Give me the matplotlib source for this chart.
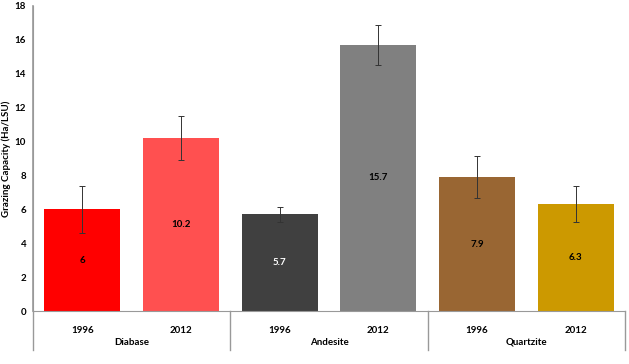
import matplotlib.pyplot as plt
import matplotlib.transforms as mtransforms

years = ['1996', '2012', '1996', '2012', '1996', '2012']
groups = ['Diabase', 'Andesite', 'Quartzite']
values = [6, 10.2, 5.7, 15.7, 7.9, 6.3]
errors = [1.4, 1.3, 0.45, 1.2, 1.25, 1.05]
labels = ['6', '10.2', '5.7', '15.7', '7.9', '6.3']
colors = ['#FF0000', '#FF5050', '#404040', '#808080', '#996633', '#CC9900']
label_colors = ['black', 'black', 'white', 'black', 'black', 'black']

plt.rcParams['font.family'] = ['Lato', 'DejaVu Sans']

fig = plt.figure(figsize=(6.29, 3.64), dpi=100)
ax = fig.add_axes([0.0525, 0.1456, 0.941, 0.838])

x = range(len(values))
ax.bar(x, values, width=0.77, color=colors, yerr=errors,
       error_kw=dict(ecolor='#333333', elinewidth=0.7, capsize=2.5, capthick=0.7))

for i, v in enumerate(values):
    ax.text(i, v / 2, labels[i], ha='center', va='center', fontsize=7,
            fontweight='bold', color=label_colors[i])

ax.set_xlim(-0.5, len(values) - 0.5)
ax.set_ylim(0, 18)
ax.set_yticks(range(0, 19, 2))
ax.set_xticks([])
ax.tick_params(axis='y', length=0, labelsize=7, pad=5)
for t in ax.get_yticklabels():
    t.set_fontweight('bold')
ax.set_ylabel('Grazing Capacity (Ha/LSU)', fontsize=7, fontweight='bold', labelpad=3)

for s in ['top', 'right']:
    ax.spines[s].set_visible(False)
ax.spines['left'].set_color('#999999')
ax.spines['bottom'].set_color('#999999')
ax.spines['left'].set_bounds(0, 18)

trans = mtransforms.blended_transform_factory(ax.transData, ax.transAxes)
for b in [-0.5, 1.5, 3.5, 5.5]:
    ax.plot([b, b], [0, -0.128], color='#999999', lw=1, transform=trans, clip_on=False)
ax.plot([-0.5, -0.5], [0, 1], color='#999999', lw=1.2, transform=trans, clip_on=False)

for i, yr in enumerate(years):
    ax.text(i, -0.063, yr, transform=trans, ha='center', va='center',
            fontsize=7, fontweight='bold')
for j, g in enumerate(groups):
    ax.text(2 * j + 0.5, -0.102, g, transform=trans, ha='center', va='center',
            fontsize=7, fontweight='bold')

fig.savefig('out.png', dpi=100)
